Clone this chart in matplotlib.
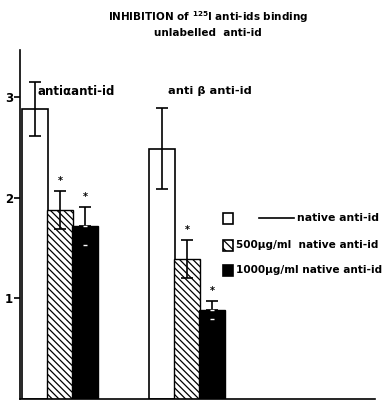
import numpy as np
import matplotlib
matplotlib.use('Agg')
import matplotlib.pyplot as plt
from matplotlib.patches import Rectangle

# data
groups = ['anti\u03b1anti-id', 'anti \u03b2 anti-id']
native = [2.88, 2.49]
native_err = [0.27, 0.40]
dose500 = [1.88, 1.39]
dose500_err = [0.19, 0.19]
dose1000 = [1.72, 0.885]
dose1000_err = [0.19, 0.09]
yticks = [1, 2, 3]

plt.rcParams['font.family'] = 'DejaVu Sans'
plt.rcParams['font.weight'] = 'bold'
plt.rcParams['hatch.linewidth'] = 0.9

fig = plt.figure(figsize=(3.9, 4.0), dpi=100)
ax = fig.add_axes([20 / 390, 1 / 400, 355 / 390, 349 / 400])

x = np.arange(len(groups))
w = 0.205
off = 0.2

ax.bar(x - off, native, w, color='white', edgecolor='black', linewidth=1.2)
ax.bar(x, dose500, w, color='white', edgecolor='black', hatch='\\\\\\\\\\', linewidth=1.0)
ax.bar(x + off, dose1000, w, color='black', edgecolor='black', linewidth=1.0)

ax.errorbar(x - off, native, yerr=native_err, fmt='none', ecolor='black', capsize=4, elinewidth=1.2, capthick=1.2)
ax.errorbar(x, dose500, yerr=dose500_err, fmt='none', ecolor='black', capsize=4, elinewidth=1.2, capthick=1.2)
# black bars: upper whisker black, only a small white cap shows inside the bar
ax.errorbar(x + off, dose1000, yerr=[np.zeros(2), dose1000_err], fmt='none', ecolor='black', capsize=4, elinewidth=1.2, capthick=1.2)
ax.errorbar(x + off, dose1000, yerr=[dose1000_err, np.zeros(2)], fmt='none', ecolor='white', capsize=1.5, elinewidth=0, capthick=1.0)

# asterisks
for xs, vals, errs in [(x, dose500, dose500_err), (x + off, dose1000, dose1000_err)]:
    for xi, v, e in zip(xs, vals, errs):
        ax.text(xi, v + e + 0.05, '*', ha='center', va='bottom', fontsize=7)

# group labels
ax.text(x[0] - off + 0.02, 3.06, groups[0], ha='left', va='center', fontsize=8.5)
ax.text(x[1] - off + 0.05, 3.06, groups[1], ha='left', va='center', fontsize=8.2)

ax.set_xlim(-40 / 127, 315 / 127)
ax.set_ylim(0, 3.47)
ax.set_yticks(yticks)
ax.set_yticklabels([str(t) for t in yticks], fontsize=8.5, fontweight='bold')
ax.set_xticks([])
ax.tick_params(axis='y', direction='out', length=4, width=1.2, pad=1)
for s in ['top', 'right']:
    ax.spines[s].set_visible(False)
ax.spines['left'].set_linewidth(1.2)
ax.spines['bottom'].set_linewidth(1.2)

# title
fig.text(208 / 390, 1 - 17 / 400, 'INHIBITION of $^{125}$I anti-ids binding', ha='center', va='center', fontsize=7.5)
fig.text(208 / 390, 1 - 33 / 400, 'unlabelled  anti-id', ha='center', va='center', fontsize=7.5)

# legend drawn by hand
def box(px, py, face, hatch=None):
    r = Rectangle((px / 390, 1 - (py + 11) / 400), 10 / 390, 11 / 400, transform=fig.transFigure,
                  facecolor=face, edgecolor='black', linewidth=1.2, hatch=hatch)
    fig.add_artist(r)

box(223, 213, 'white')
fig.add_artist(plt.Line2D([259 / 390, 294 / 390], [1 - 218 / 400] * 2, transform=fig.transFigure, color='black', linewidth=1.2))
fig.text(297 / 390, 1 - 218 / 400, 'native anti-id', ha='left', va='center', fontsize=7.8)
box(223, 240, 'white', hatch='\\\\\\\\')
fig.text(236 / 390, 1 - 245 / 400, '500\u00b5g/ml  native anti-id', ha='left', va='center', fontsize=7.6)
box(223, 265, 'black')
fig.text(236 / 390, 1 - 270 / 400, '1000\u00b5g/ml native anti-id', ha='left', va='center', fontsize=7.6)

fig.savefig('out.png', dpi=100)
